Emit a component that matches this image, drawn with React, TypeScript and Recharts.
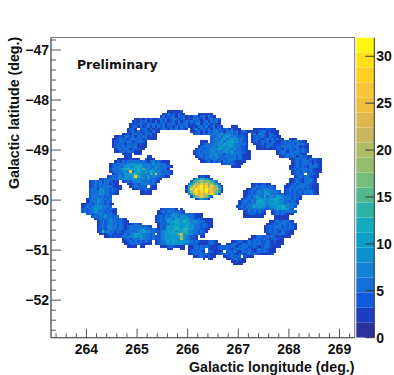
import React from "react";
import { ScatterChart, Scatter, XAxis, YAxis, ReferenceArea, Label, Customized, BarChart, Bar } from "recharts";

// Each row: [latitude bin, first longitude bin, values (base 36, "." = empty), next first bin, values...]
const upperRows: (number | string)[][] = [
  [29, 46, "323234"],
  [30, 44, "345343523", 58, "234232"],
  [31, 43, "3534453645343563453543"],
  [32, 33, "3243534324645345634534356435345354"],
  [33, 32, "34354534253645346353454645634536453"],
  [34, 31, "343564354654463546354653435736453532"],
  [35, 31, "3453534635354634535354532435645345342", 71, "323"],
  [36, 30, "3453.5463534345635463543", 55, "34536546354534535332", 80, "323234432"],
  [37, 30, "3453634543532", 55, "234536354574635674534532", 79, "43345534332"],
  [38, 28, "23435646354532", 56, "3453546576786975463432", 79, "45375435432"],
  [39, 25, "33435546354653432", 63, "546768a86754543", 79, "345464354432"],
  [40, 24, "334546357645354332", 63, "45768a67a986543", 79, "3456345463532", 94, "232"],
  [41, 24, "34356465345643", 59, "223", 63, "4657a68bc986543", 79, "3453545354234546465432"],
  [42, 24, "34546354653432", 59, "345656796a9b8765653", 80, "3345345434346465356543"],
  [43, 24, "34546465453332", 58, "345565768a97a8765443", 81, "234364434456564653432"],
  [44, 25, "345465354432", 57, "345465768a89a76865443", 81, "223232234536465364543"],
  [45, 25, "33454654322", 56, "345465679676897a5654432", 89, "3456354654543"],
  [46, 28, "3343", 33, "232", 56, "34564567986547685654332", 89, "345465546432"],
  [47, 29, "232", 38, "32", 57, "3454567676455656454323", 90, "2345465354432"],
];

const middleRows: (number | string)[][] = [
  [48, 26, "232324323", 37, "4232", 58, "234546754545675454322", 94, "2345465354432"],
  [49, 25, "3435456565454357454332", 59, "234535453546543222", 95, "345465643432"],
  [50, 23, "344565678a87a57568675543", 67, "345454322", 95, "345465453543"],
  [51, 23, "3456568a97bca767668765543", 71, "2322", 94, "2345454365543"],
  [52, 23, "45567bceabac9d8767865643", 94, "3454565454322"],
  [53, 23, "34565897p6acb7a7ca6754543", 95, "345465454332"],
  [54, 24, "34566a9bcea9786e9n765453", 95, "34546.54543"],
  [55, 22, "34545768a9brd976a6775543" + "2", 96, "3454654332"],
  [56, 19, "3454555677987ba7676865443", 94, "23454365543"],
  [57, 15, "345453654332", 28, "345456975654543", 94, "23454365543"],
  [58, 15, "345454563432", 30, "234546675654", 79, "23434432", 93, "2345456554332"],
  [59, 15, "3454565654322", 31, "3455454", 39, "432", 79, "3454564543", 92, "23454565654322"],
  [60, 15, "4563876546432", 32, "2345454322", 77, "234546676554", 92, "34546546454322"],
  [61, 15, "456578654543", 35, "23432", 76, "23454676a976554", 92, "34545464565432"],
  [62, 15, "456587654432", 35, "23322", 76, "234546769a7665454", 92, "34546453546532"],
  [63, 15, "456556454", 76, "34547a76a6875a976564543"],
  [64, 14, "3456876545", 75, "3456567a9a79abb976564543"],
  [65, 14, "2456875454", 74, "3456476acb97a9ba87654543"],
  [66, 12, "234546965453 ".trim() + "3", 74, "3454567a9a879aa987675654"],
  [67, 12, "345457985654", 73, "3454567a8a97678 9abcb7654 ".replace(" ", "").trim()],
];

const coreRows: (number | string)[][] = [
  [55, 58, "34433"],
  [56, 56, "48adc964"],
  [57, 55, "5cfgkhgjec5"],
  [58, 54, "4agmjqkphlfb4"],
  [59, 53, "3bhqlswnsjqlgb3"],
  [60, 53, "4dsmwqtlwrojmd4"],
  [61, 53, "3cjquntrwlrmgc3"],
  [62, 54, "6elsnqipmtke4"],
  [63, 55, "4cgkqmhc4"],
  [64, 57, "35a763"],
];

const lowerRows: (number | string)[][] = [
  [68, 12, "45456a87654543", 43, "3454543", 51, "3", 74, "345456667654567a9ab964"],
  [69, 12, "45456876545432", 42, "34545654543", 76, "345454543", 87, "3454565654"],
  [70, 14, "454567654543", 42, "234546876545454322", 76, "234543432", 87, "345454322"],
  [71, 16, "45456865454", 41, "3454567986987654322", 76, "22332222", 88, "232223"],
  [72, 17, "3454567654543", 41, "34547975ba97a7654543322", 88, "223222"],
  [73, 18, "3454576545432", 41, "34546a9bca9da8797654332", 86, "2345456543"],
  [74, 18, "345457654543234543", 42, "34546a9bca9ba8765 4543 2".replace(/ /g, "").slice(0, 22), 85, "234546654543"],
  [75, 18, "3454876545434565654543", 42, "3546a9bca9bca87654543 2".replace(" ", "").slice(0, 22), 84, "3454565454543"],
  [76, 18, "345467654543456567965454", 42, "3547a9bdabcea87654432", 84, "3454545454543"],
  [77, 18, "34d5765454345656" + "79a87654", 42, "4579abc9abdc97654543", 84, "345454354432"],
  [78, 19, "34345434345458ab976545", 42, "4 57a9bacgl9b97654432".replace(" ", "").slice(0, 19), 85, "23454554332"],
  [79, 21, "234343456578a8a765454", 42, "457a9ba9cjb75443", 59, "32", 79, "2345445454343232"],
  [80, 28, "34545657765454", 42, "457a9ba98ka75443", 78, "23454454345432"],
  [81, 28, "234545454543", 41, "34568a9ba9a98754543234543", 71, "234543454545445434322"],
  [82, 29, "23454543322", 41, "3456789a98a765454322345432", 69, "23454345454565445434322"],
  [83, 30, "2323", 35, "22", 43, "2234543322", 54, "2345454543234545454346554454345543222"],
  [84, 46, "22", 51, "22", 54, "2345454.432345454345654453345454322"],
  [85, 54, "3454543.543234.45454345454345454322"],
  [86, 54, "2345454543234545454346345454322234"],
  [87, 56, "234543432", 68, "2345454.4322"],
  [88, 60, "2.22", 69, "23454432"],
  [89, 71, "234322"],
  [90, 72, "2122"],
];

const levelColors = [
  "#2A339B", "#1C3FC0", "#0F5BD9", "#1570D6", "#1481D3", "#0E90CE", "#0CA0C8", "#14ABBE", "#2CB3A6", "#52B98E",
  "#74BD7C", "#94BE6E", "#B0BB66", "#C9B65E", "#DDB74F", "#EFBF3E", "#F8C537", "#FFD022", "#FFE018", "#FFF80C",
];
const lonTicks = [263.4, 263.6, 263.8, 264, 264.2, 264.4, 264.6, 264.8, 265, 265.2, 265.4, 265.6, 265.8, 266, 266.2, 266.4, 266.6, 266.8, 267, 267.2, 267.4, 267.6, 267.8, 268, 268.2, 268.4, 268.6, 268.8, 269, 269.2];
const latTicks = [-46.8, -47, -47.2, -47.4, -47.6, -47.8, -48, -48.2, -48.4, -48.6, -48.8, -49, -49.2, -49.4, -49.6, -49.8, -50, -50.2, -50.4, -50.6, -50.8, -51, -51.2, -51.4, -51.6, -51.8, -52, -52.2, -52.4, -52.6];
const scaleTicks = [0, 5, 10, 15, 20, 25, 30];

const LEVEL = 1.6;
const LON0 = 263.3;
const LAT0 = -46.75;
const BIN = 0.05;
const FONT = "'Liberation Sans', Arial, sans-serif";
const AXIS = "#555";

type Cell = { lon: number; lat: number; v: number };
const cells: Cell[] = [];
[...upperRows, ...middleRows, ...lowerRows, ...coreRows].forEach((row) => {
  const r = row[0] as number;
  for (let i = 1; i < row.length; i += 2) {
    const start = row[i] as number;
    const s = row[i + 1] as string;
    for (let k = 0; k < s.length; k++) {
      if (s[k] === ".") continue;
      cells.push({ lon: LON0 + BIN * (start + k + 0.5), lat: LAT0 - BIN * (r + 0.5), v: parseInt(s[k], 36) });
    }
  }
});

const scaleRow: Record<string, number | string> = { name: "z" };
levelColors.forEach((_, i) => { scaleRow["b" + i] = LEVEL; });

const CellShape = (p: any) => {
  const band = Math.min(levelColors.length - 1, Math.floor(p.payload.v / LEVEL));
  return <rect x={p.cx - 1.3} y={p.cy - 1.28} width={2.6} height={2.56} fill={levelColors[band]} shapeRendering="crispEdges" />;
};

const LonTick = (p: any) => {
  const v = p.payload.value;
  const major = Math.abs(v - Math.round(v)) < 1e-6;
  return (
    <g>
      <line x1={p.x} x2={p.x} y1={p.y} y2={p.y - (major ? 9 : 4.5)} stroke={AXIS} />
      {major && <text x={p.x} y={p.y + 16} textAnchor="middle" fontFamily={FONT} fontWeight="bold" fontSize={14} fill="#111">{Math.round(v)}</text>}
    </g>
  );
};

const LatTick = (p: any) => {
  const v = p.payload.value;
  const major = Math.abs(v - Math.round(v)) < 1e-6;
  return (
    <g>
      <line x1={p.x} x2={p.x + (major ? 10 : 5)} y1={p.y} y2={p.y} stroke={AXIS} />
      {major && <text x={p.x - 2} y={p.y + 5} textAnchor="end" fontFamily={FONT} fontWeight="bold" fontSize={14} fill="#111">{"\u2212" + Math.abs(Math.round(v))}</text>}
    </g>
  );
};

const ScaleTick = (p: any) => (
  <g>
    <line x1={p.x - 9} x2={p.x} y1={p.y} y2={p.y} stroke="#333" />
    <text x={p.x + 2} y={p.y + 5} textAnchor="start" fontFamily={FONT} fontWeight="bold" fontSize={14} fill="#111">{p.payload.value}</text>
  </g>
);

export default function App() {
  return (
    <div style={{ position: "absolute", left: 0, top: 0, width: 394, height: 375 }}>
      <div style={{ position: "absolute", left: 0, top: 0 }}>
        <ScatterChart width={394} height={375} margin={{ left: 0, right: 39.3, top: 37.5, bottom: 0 }}>
          <XAxis type="number" dataKey="lon" domain={[LON0, 269.3]} ticks={lonTicks} interval={0} height={37.3} tick={LonTick} tickLine={false} tickSize={0} tickMargin={0} axisLine={{ stroke: AXIS }} allowDataOverflow>
            <Label content={() => <text x={354.5} y={372} textAnchor="end" fontFamily={FONT} fontWeight="bold" fontSize={14.2} fill="#111">Galactic longitude (deg.)</text>} />
          </XAxis>
          <YAxis type="number" dataKey="lat" domain={[-52.75, LAT0]} ticks={latTicks} interval={0} width={51} tick={LatTick} tickLine={false} tickSize={0} tickMargin={0} axisLine={{ stroke: AXIS }} allowDataOverflow>
            <Label content={() => <text transform="translate(19,189) rotate(-90)" textAnchor="start" fontFamily={FONT} fontWeight="bold" fontSize={14.2} fill="#111">Galactic latitude (deg.)</text>} />
          </YAxis>
          <ReferenceArea x1={LON0} x2={269.3} y1={-52.75} y2={LAT0} fill="none" stroke="#777" />
          <Scatter data={cells} shape={CellShape} isAnimationActive={false} />
          <Customized component={() => <text x={77} y={69} fontFamily="'DejaVu Sans', sans-serif" fontWeight="bold" fontSize={12.4} fill="#111">Preliminary</text>} />
        </ScatterChart>
      </div>
      <div style={{ position: "absolute", left: 0, top: 0 }}>
        <BarChart width={394} height={375} data={[scaleRow]} margin={{ left: 356.3, right: 0, top: 37.5, bottom: 37.3 }} barCategoryGap={0} barGap={0}>
          <XAxis dataKey="name" hide />
          <YAxis orientation="right" type="number" domain={[0, 32]} ticks={scaleTicks} interval={0} width={19.7} tick={ScaleTick} tickLine={false} tickSize={0} tickMargin={0} axisLine={{ stroke: "#333" }} allowDataOverflow />
          {levelColors.map((c, i) => (
            <Bar key={c} dataKey={"b" + i} stackId="scale" fill={c} isAnimationActive={false} />
          ))}
        </BarChart>
      </div>
    </div>
  );
}
